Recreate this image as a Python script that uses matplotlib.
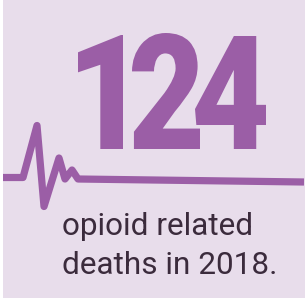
import matplotlib
matplotlib.use("Agg")
import matplotlib.pyplot as plt
from matplotlib.textpath import TextPath
from matplotlib.font_manager import FontProperties
from matplotlib.patches import PathPatch, Rectangle
from matplotlib.transforms import Affine2D

# data
big_number = "124"
# box of each digit in pixels: (left, top, right, bottom)
digit_boxes = [(78, 35, 123, 149), (132, 33, 200, 149), (195, 36, 266, 149)]
pulse_x = [3, 23, 37, 44, 59, 65, 72, 78, 304]
pulse_y = [177.5, 177.5, 125.5, 206.5, 158, 179, 170, 179, 182]
caption = ["opioid related", "deaths in 2018."]

bg = "#E8DDEB"
purple = "#9B5EA6"
text_col = "#3B2B3C"

W, H = 305, 301
fig = plt.figure(figsize=(W / 100, H / 100), dpi=100)
ax = fig.add_axes([0, 0, 1, 1])
ax.set_xlim(0, W)
ax.set_ylim(H, 0)
ax.axis("off")

ax.add_patch(Rectangle((3, 0), W - 3, 298, color=bg, lw=0, zorder=0))

# big digits, each scaled into its own box
fp = FontProperties(family="Roboto", weight="black")
for ch, (l, t, r, b) in zip(big_number, digit_boxes):
    tp = TextPath((0, 0), ch, size=100, prop=fp)
    ext = tp.get_extents()
    sx = (r - l) / ext.width
    sy = (b - t) / ext.height
    tr = Affine2D().translate(-ext.x0, -ext.y0).scale(sx, -sy).translate(l, b)
    ax.add_patch(PathPatch(tr.transform_path(tp), color=purple, lw=0, zorder=2))

# heartbeat line
ax.plot(pulse_x, pulse_y, color=purple, lw=5.2, solid_joinstyle="round",
        solid_capstyle="butt", zorder=3)

# caption
for i, line in enumerate(caption):
    ax.text(62, 235 + i * 39, line, fontsize=22.7, family="Roboto",
            color=text_col, ha="left", va="baseline")

fig.savefig("out.png", dpi=100)
